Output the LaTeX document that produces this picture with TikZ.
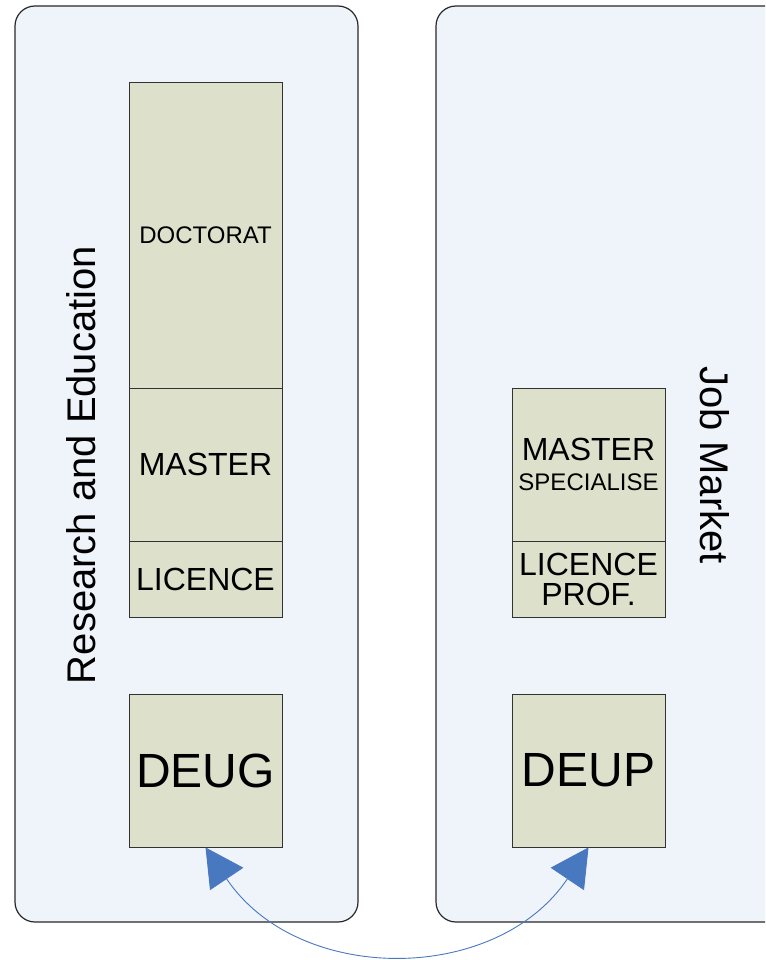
\documentclass[tikz,border=0pt]{standalone}
\usepackage{fontspec}
\setmainfont{Liberation Sans}
\usetikzlibrary{arrows.meta}
\definecolor{panelfill}{RGB}{239,243,250}
\definecolor{panelline}{RGB}{40,40,40}
\definecolor{boxfill}{RGB}{221,225,204}
\definecolor{boxline}{RGB}{50,50,50}
\definecolor{arrowblue}{RGB}{72,121,192}
\tikzset{
  panel/.style={draw=panelline, fill=panelfill, line width=1.2pt, rounded corners=20pt},
  level/.style={draw=boxline, fill=boxfill, line width=0.8pt, rectangle, inner sep=0pt,
                minimum width=153pt, align=center},
  fs/.style={font=\fontsize{#1}{30}\selectfont},
  sidetext/.style={font=\fontsize{40}{44}\selectfont, inner sep=0pt},
  link/.style={draw=arrowblue, line width=0.9pt,
     {Triangle[length=38pt,width=40pt,fill=arrowblue]}-{Triangle[length=38pt,width=40pt,fill=arrowblue]}}
}
\begin{document}
\begin{tikzpicture}[x=1pt,y=-1pt]
\clip (0,0) rectangle (765,960);
\fill[white] (0,0) rectangle (765,960);
% panels
\draw[panel] (15,6) rectangle (358,922);
\draw[panel] (436,6) rectangle (820,922);
% left column
\node[level, minimum height=306pt, fs=24] (doct) at (205.5,235) {DOCTORAT};
\node[level, minimum height=153pt, fs=32] (mast) at (205.5,464.5) {MASTER};
\node[level, minimum height=76pt, fs=32] (lic) at (205.5,579) {LICENCE};
\node[level, minimum height=153pt, fs=48] (deug) at (205.5,770.5) {DEUG};
% right column
\node[level, minimum height=153pt, fs=32] (mspec) at (588.5,464.5)
  {MASTER\\{\fontsize{24}{30}\selectfont SPECIALISE}};
\node[level, minimum height=76pt, fs=32] (lprof) at (588.5,579) {LICENCE\\PROF.};
\node[level, minimum height=153pt, fs=48] (deup) at (588.5,770.5) {DEUP};
% side labels
\node[sidetext, rotate=90] (research) at (81,465) {Research and Education};
\node[sidetext, rotate=-90] (job) at (715,465) {Job Market};
% connector
\draw[link] (deug.south) .. controls (298,985) and (496,985) .. (deup.south);
\end{tikzpicture}
\end{document}
